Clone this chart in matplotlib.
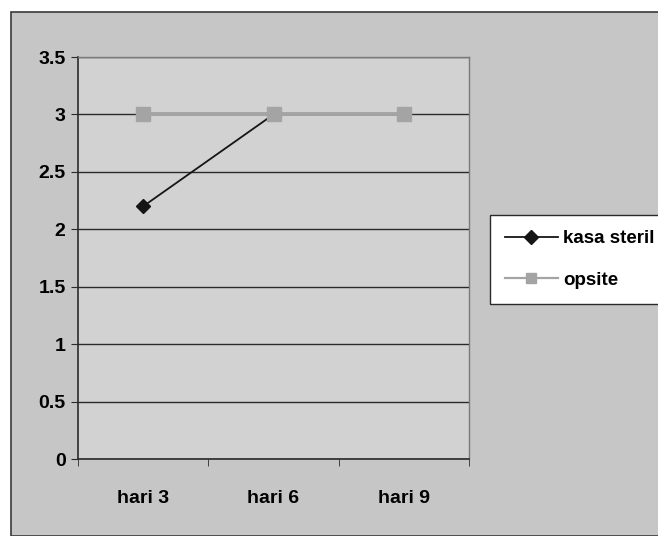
import numpy as np
import matplotlib
matplotlib.use("Agg")
import matplotlib.pyplot as plt
from matplotlib.patches import Rectangle

# ------------------ data ------------------
days = ["hari 3", "hari 6", "hari 9"]
kasa_steril = [2.2, 3.0, 3.0]
opsite = [3.0, 3.0, 3.0]
y_ticks = [0, 0.5, 1, 1.5, 2, 2.5, 3, 3.5]

plt.rcParams['font.family'] = ['Liberation Sans Narrow', 'Liberation Sans', 'DejaVu Sans']
plt.rcParams['font.weight'] = 'bold'

fig = plt.figure(figsize=(6.58, 5.36), dpi=100)
fig.patch.set_facecolor("white")
# outer chart area with border (behind the axes)
fig.patches.append(Rectangle((11 / 658, 0), 1.0, 1 - 12 / 536, transform=fig.transFigure,
                             facecolor="#c6c6c6", edgecolor="#3a3a3a", lw=1.2, zorder=-5))

ax = fig.add_axes([78 / 658, 1 - 459 / 536, 391 / 658, 402 / 536])
ax.set_facecolor("#d2d2d2")

x = np.arange(len(days))
# opsite drawn on top (hides kasa steril where both are 3)
ax.plot(x, kasa_steril, color="#151515", lw=1.3, marker="D", ms=7, mec="#151515", mfc="#151515",
        label="kasa steril", zorder=3)
ax.plot(x, opsite, color="#a4a4a4", lw=2.8, marker="s", ms=10, mec="#a4a4a4", mfc="#a4a4a4",
        label="opsite", zorder=4)

ax.set_xlim(-0.5, 2.5)
ax.set_ylim(0, 3.5)
ax.set_yticks(y_ticks)
ax.set_yticklabels(["0", "0.5", "1", "1.5", "2", "2.5", "3", "3.5"])
ax.yaxis.grid(True, color="#2a2a2a", lw=1.0)
ax.set_axisbelow(True)

ax.set_xticks(x)
ax.set_xticklabels(days)
ax.set_xticks([-0.5, 0.5, 1.5, 2.5], minor=True)
ax.tick_params(axis="x", which="major", length=0, pad=22, labelsize=14)
ax.tick_params(axis="x", which="minor", length=5, direction="out", color="#2a2a2a")
ax.tick_params(axis="y", length=5, direction="out", color="#2a2a2a", labelsize=14, pad=4)

for side in ["left", "bottom"]:
    ax.spines[side].set_color("#2a2a2a")
    ax.spines[side].set_linewidth(1.2)
for side in ["top", "right"]:
    ax.spines[side].set_color("#7a7a7a")
    ax.spines[side].set_linewidth(1.0)

# thinner legend keys, as in the original
legend_lines = [
    plt.Line2D([], [], color="#151515", lw=1.3, marker="D", ms=7, mfc="#151515", mec="#151515"),
    plt.Line2D([], [], color="#a4a4a4", lw=1.6, marker="s", ms=7, mfc="#a4a4a4", mec="#a4a4a4"),
]
leg = fig.legend(legend_lines, ["kasa steril", "opsite"], loc="upper left",
                 bbox_to_anchor=(490 / 658, 1 - 215 / 536), frameon=True,
                 fancybox=False, fontsize=13.5, handlelength=2.8, labelspacing=1.3,
                 borderpad=0.8, borderaxespad=0, handletextpad=0.3, framealpha=1)
leg.get_frame().set_edgecolor("#2a2a2a")
leg.get_frame().set_facecolor("white")
leg.get_frame().set_linewidth(1.0)

fig.savefig("out.png", dpi=100)
